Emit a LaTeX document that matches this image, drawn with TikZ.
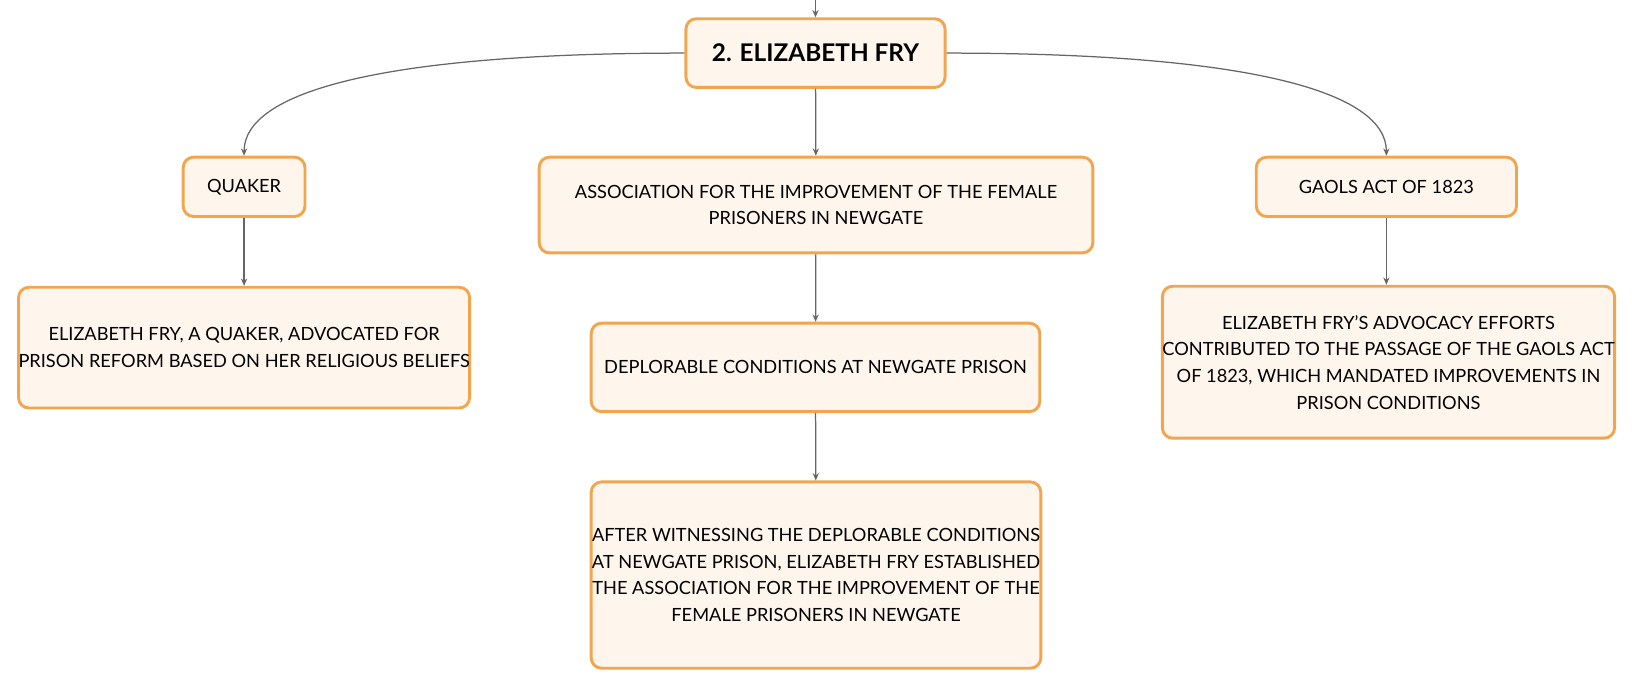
\documentclass[tikz,border=0pt]{standalone}
\usepackage{fontspec}
\setmainfont{Lato}
\usetikzlibrary{arrows.meta}

\definecolor{boxedge}{HTML}{F2A54F}
\definecolor{boxfill}{HTML}{FEF5EC}
\definecolor{linkgray}{HTML}{666666}

\tikzset{
  topic/.style={draw=boxedge, fill=boxfill, line width=1.4pt, rounded corners=5pt,
    align=center, inner sep=0pt, font=\fontsize{8.75}{12.8}\selectfont},
  link/.style={draw=linkgray, line width=0.6pt, -{Stealth[length=3.5pt,width=3pt]}},
}

\begin{document}
\begin{tikzpicture}[x=0.5pt,y=-0.5pt]
\useasboundingbox (0,0) rectangle (1568,661);

%% centre
\coordinate (up) at (783.5,0);
\node [topic, minimum width=124.5pt, minimum height=33pt,
       font=\fontsize{11.7}{14}\selectfont\bfseries] (fry) at (783.5,51) {2. ELIZABETH FRY};

%% first row
\node [topic, minimum width=58.5pt, minimum height=28.5pt] (quaker) at (234.5,179.5) {QUAKER};
\node [topic, minimum width=266pt, minimum height=46pt] (assoc) at (784,197)
  {ASSOCIATION FOR THE IMPROVEMENT OF THE FEMALE\\PRISONERS IN NEWGATE};
\node [topic, minimum width=125pt, minimum height=28.5pt] (gaols) at (1332,179.5) {GAOLS ACT OF 1823};

%% details
\node [topic, minimum width=215.5pt, minimum height=58pt] (quakernote) at (234.5,334)
  {ELIZABETH FRY, A QUAKER, ADVOCATED FOR\\PRISON REFORM BASED ON HER RELIGIOUS BELIEFS};
\node [topic, minimum width=215.5pt, minimum height=42.5pt] (newgate) at (783.5,353)
  {DEPLORABLE CONDITIONS AT NEWGATE PRISON};
\node [topic, minimum width=216pt, minimum height=89.5pt] (founded) at (784,552.5)
  {AFTER WITNESSING THE DEPLORABLE CONDITIONS\\AT NEWGATE PRISON, ELIZABETH FRY ESTABLISHED\\THE ASSOCIATION FOR THE IMPROVEMENT OF THE\\FEMALE PRISONERS IN NEWGATE};
\node [topic, minimum width=216pt, minimum height=73pt] (gaolsnote) at (1334,348)
  {ELIZABETH FRY'S ADVOCACY EFFORTS\\CONTRIBUTED TO THE PASSAGE OF THE GAOLS ACT\\OF 1823, WHICH MANDATED IMPROVEMENTS IN\\PRISON CONDITIONS};

%% links
\draw [link] (up) -- (fry);
\draw [link] (fry.west) .. controls +(-293,0) and +(0,-61) .. (quaker.north);
\draw [link] (fry.east) .. controls +(293,0) and +(0,-61) .. (gaols.north);
\draw [link] (fry) -- (assoc);
\draw [link] (quaker) -- (quakernote);
\draw [link] (assoc) -- (newgate);
\draw [link] (newgate) -- (founded);
\draw [link] (gaols) -- (gaols |- gaolsnote.north);
\end{tikzpicture}
\end{document}
